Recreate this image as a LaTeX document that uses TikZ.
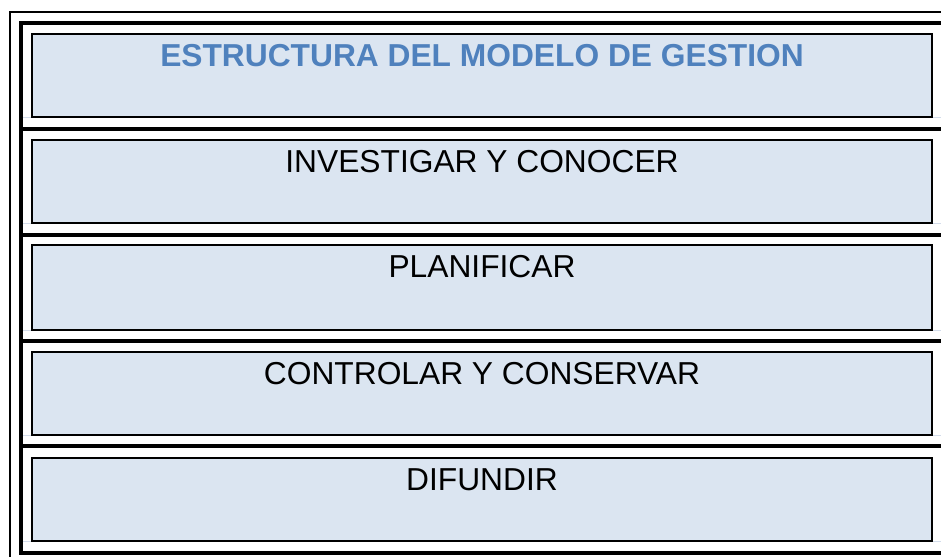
\documentclass[tikz,border=0pt]{standalone}
\usepackage{fontspec}
\setmainfont{Liberation Sans}
\definecolor{boxfill}{HTML}{DBE5F1}
\definecolor{titleblue}{HTML}{4F81BD}
\definecolor{faint}{HTML}{D3DCEA}
\begin{document}
\begin{tikzpicture}[x=0.75pt,y=-0.75pt,
  stagebox/.style={draw=black, line width=1.6pt, fill=boxfill, inner sep=0pt, outer sep=0pt,
    minimum width=675pt, anchor=north west},
  stagetext/.style={anchor=base, inner sep=0pt, font=\fontsize{23.8pt}{28pt}\selectfont},
  thinframe/.style={line width=1.5pt, black},
  thickframe/.style={line width=3pt, black},
  faintline/.style={line width=0.6pt, faint}]
\useasboundingbox (0,0) rectangle (941,557);
% faint grid lines at box bottoms
\foreach \yy in {117,223,330,435,541} \draw[faintline] (23,\yy) -- (941,\yy);
% outer thin frame
\coordinate (o1) at (941,12);
\coordinate (o2) at (10,12);
\coordinate (o3) at (10,557);
\draw[thinframe] (o1) -- (o2) -- (o3);
% thick frame
\coordinate (t1) at (941,23);
\coordinate (t2) at (21,23);
\coordinate (t3) at (21,553);
\coordinate (t4) at (941,553);
\draw[thickframe] (t1) -- (t2) -- (t3) -- (t4);
% separators
\foreach \yy/\nm in {128.5/s1,235/s2,341/s3,446/s4} {
  \coordinate (\nm a) at (21,\yy);
  \coordinate (\nm b) at (941,\yy);
  \draw[thickframe] (\nm a) -- (\nm b);
}
% boxes
\node[stagebox, minimum height=62.25pt] (b1) at (32,34) {};
\node[stagebox, minimum height=62.25pt] (b2) at (32,140) {};
\node[stagebox, minimum height=63.75pt] (b3) at (32,245) {};
\node[stagebox, minimum height=62.25pt] (b4) at (32,352) {};
\node[stagebox, minimum height=62.25pt] (b5) at (32,458) {};
% texts
\node[stagetext, text=titleblue, font=\fontsize{23.8pt}{28pt}\selectfont\bfseries] (l1) at (482,66) {ESTRUCTURA DEL MODELO DE GESTION};
\node[stagetext] (l2) at (482,172) {INVESTIGAR Y CONOCER};
\node[stagetext] (l3) at (482,277) {PLANIFICAR};
\node[stagetext] (l4) at (482,384) {CONTROLAR Y CONSERVAR};
\node[stagetext] (l5) at (482,490) {DIFUNDIR};
\end{tikzpicture}
\end{document}
